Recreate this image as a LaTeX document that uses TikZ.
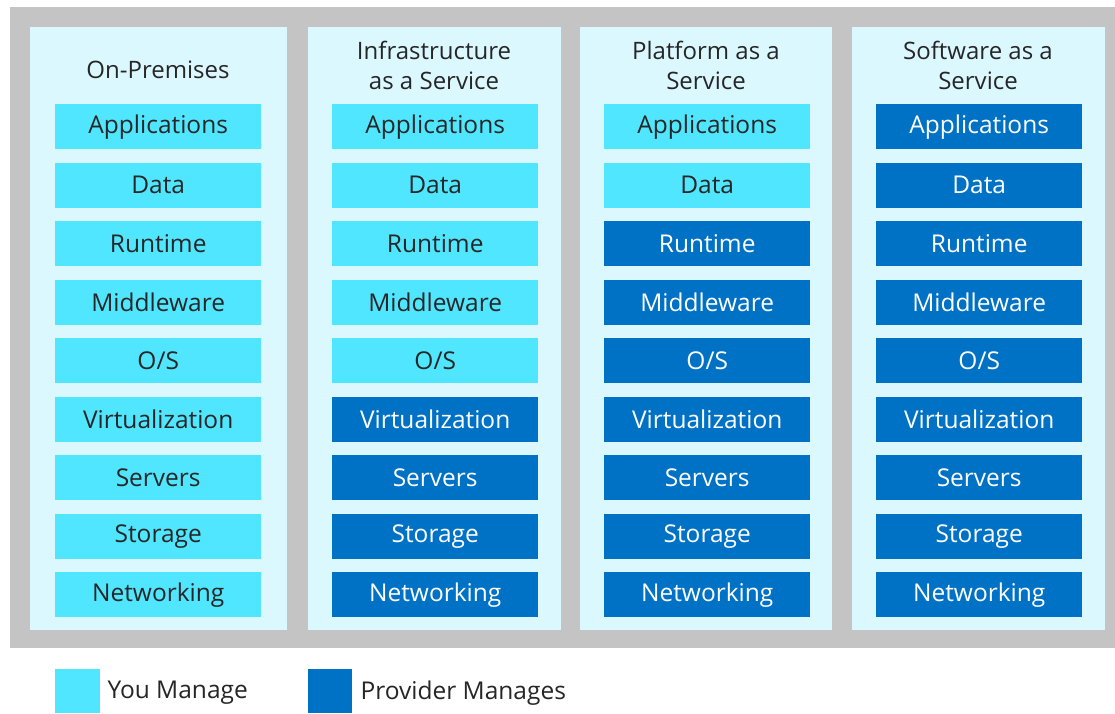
\documentclass[tikz,border=0pt]{standalone}
\usepackage{fontspec}
\setmainfont{Open Sans}
\definecolor{lightbox}{HTML}{50E6FF}
\definecolor{darkbox}{HTML}{0072C6}
\definecolor{panelbg}{HTML}{DCF8FF}
\definecolor{framegray}{HTML}{C4C4C4}
\definecolor{ink}{HTML}{262626}
\begin{document}
\begin{tikzpicture}[x=1pt,y=-1pt,
  layer/.style={minimum width=206pt, minimum height=45pt, inner sep=0pt, anchor=north west,
    font=\fontsize{24.5}{28}\selectfont},
  you/.style={layer, fill=lightbox, text=ink},
  prov/.style={layer, fill=darkbox, text=white},
  title/.style={align=center, text=ink, font=\fontsize{24}{30}\selectfont},
  legendtext/.style={anchor=west, text=ink, font=\fontsize{24.5}{28}\selectfont}]
\useasboundingbox (0,0) rectangle (1115,713);
\fill[white] (0,0) rectangle (1115,713);
\fill[framegray] (10,7) rectangle (1115,648);
\fill[panelbg] (30,27) rectangle (287,630);
\fill[panelbg] (308,27) rectangle (561,630);
\fill[panelbg] (580,27) rectangle (832,630);
\fill[panelbg] (852,27) rectangle (1105,630);
\node[title] (t1) at (158,70) {On-Premises};
\node[title] (t2) at (434,65) {Infrastructure\\as a Service};
\node[title] (t3) at (706,65) {Platform as a\\Service};
\node[title] (t4) at (978,65) {Software as a\\Service};
\foreach \c/\bx/\nyou in {1/55/9, 2/332/5, 3/604/2, 4/876/0} {
  \foreach \lab [count=\i] in {Applications,Data,Runtime,Middleware,{O/S},Virtualization,Servers,Storage,Networking} {
    \pgfmathsetmacro\ty{104+58.5*(\i-1)}
    \ifnum\i>\nyou\relax \def\st{prov}\else\def\st{you}\fi
    \node[\st] (n\c-\i) at (\bx,\ty) {\lab};
  }
}
\fill[lightbox] (55,669) rectangle (100,713);
\node[legendtext] (l1) at (104,693) {You Manage};
\fill[darkbox] (308,669) rectangle (352,713);
\node[legendtext] (l2) at (357,693) {Provider Manages};
\end{tikzpicture}
\end{document}
